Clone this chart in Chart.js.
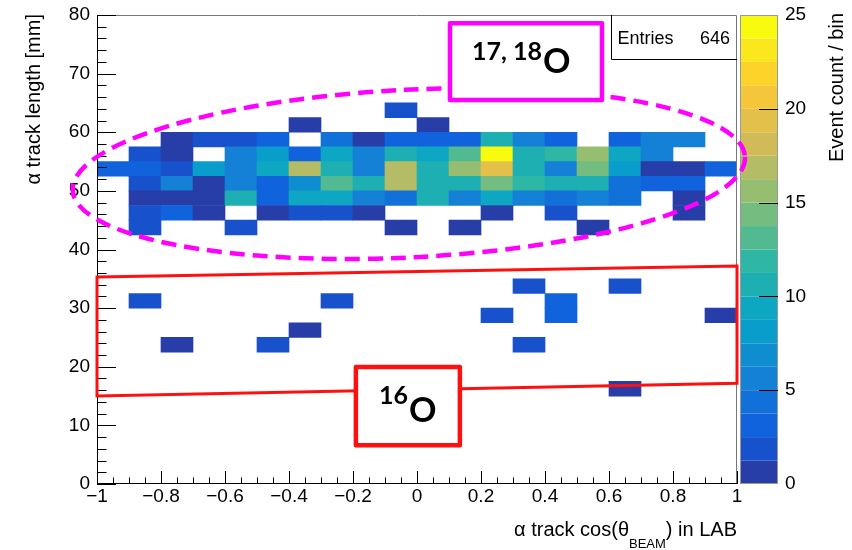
<!DOCTYPE html>
<html>
<head>
<meta charset="utf-8">
<script src="https://cdn.jsdelivr.net/npm/chart.js@4.4.1/dist/chart.umd.min.js"></script>
<style>
html,body{margin:0;padding:0;background:#fff;}
canvas{display:block;}
</style>
</head>
<body>
<canvas id="c" width="852" height="550"></canvas>
<script>
// ---------------- data ----------------
// x bin centres: alpha track cos(theta_BEAM), 20 bins of width 0.1
const xBinCenters = [-0.95,-0.85,-0.75,-0.65,-0.55,-0.45,-0.35,-0.25,-0.15,-0.05,
                      0.05, 0.15, 0.25, 0.35, 0.45, 0.55, 0.65, 0.75, 0.85, 0.95];
// event counts per x bin, one array per track-length row [lo, hi) mm
const counts_62_5 = [0,0,0,0,0,0,0,0,0,2,0,0,0,0,0,0,0,0,0,0];
const counts_60_0 = [0,0,0,0,0,0,1,0,0,0,1,0,0,0,0,0,0,0,0,0];
const counts_57_5 = [0,0,1,2,2,3,0,4,1,3,3,3,10,5,3,0,3,5,5,0];
const counts_55_0 = [0,2,1,0,5,8,3,9,5,10,9,13,25,11,12,16,9,5,0,0];
const counts_52_5 = [3,3,2,8,5,9,17,10,5,17,11,16,19,11,6,14,8,1,1,3];
const counts_50_0 = [0,2,6,1,5,3,7,13,11,17,11,11,14,12,11,11,4,3,3,0];
const counts_47_5 = [0,1,1,1,10,3,9,9,5,4,10,5,9,5,4,6,4,0,1,0];
const counts_45_0 = [0,2,3,1,0,1,2,2,1,0,0,0,1,0,2,0,0,0,1,0];
const counts_42_5 = [0,2,0,0,2,0,0,0,0,1,0,1,0,0,0,1,0,0,0,0];
const counts_32_5 = [0,0,0,0,0,0,0,0,0,0,0,0,0,2,0,0,2,0,0,0];
const counts_30_0 = [0,2,0,0,0,0,0,2,0,0,0,0,0,0,3,0,0,0,0,0];
const counts_27_5 = [0,0,0,0,0,0,0,0,0,0,0,0,2,0,3,0,0,0,0,1];
const counts_25_0 = [0,0,0,0,0,0,1,0,0,0,0,0,0,0,0,0,0,0,0,0];
const counts_22_5 = [0,0,1,0,0,2,0,0,0,0,0,0,0,2,0,0,0,0,0,0];
const counts_15_0 = [0,0,0,0,0,0,0,0,0,0,0,0,0,0,0,0,1,0,0,0];
const rows = [
  {lo:62.5, hi:65.0, counts:counts_62_5},
  {lo:60.0, hi:62.5, counts:counts_60_0},
  {lo:57.5, hi:60.0, counts:counts_57_5},
  {lo:55.0, hi:57.5, counts:counts_55_0},
  {lo:52.5, hi:55.0, counts:counts_52_5},
  {lo:50.0, hi:52.5, counts:counts_50_0},
  {lo:47.5, hi:50.0, counts:counts_47_5},
  {lo:45.0, hi:47.5, counts:counts_45_0},
  {lo:42.5, hi:45.0, counts:counts_42_5},
  {lo:32.5, hi:35.0, counts:counts_32_5},
  {lo:30.0, hi:32.5, counts:counts_30_0},
  {lo:27.5, hi:30.0, counts:counts_27_5},
  {lo:25.0, hi:27.5, counts:counts_25_0},
  {lo:22.5, hi:25.0, counts:counts_22_5},
  {lo:15.0, hi:17.5, counts:counts_15_0}
];
const entries = 646;
// ticks
const xMajorTicks = [-1,-0.8,-0.6,-0.4,-0.2,0,0.2,0.4,0.6,0.8,1];
const yMajorTicks = [0,10,20,30,40,50,60,70,80];
const zTicks = [0,5,10,15,20,25];
const zMax = 25, nContours = 20;

// annotation geometry (data units)
const ellipseEnds = [[-1.076, 50.1], [1.025, 55.8]];
const ellipseHalfMinor = 14.3;
const redQuad = [[-1, 35.3], [1, 37.2], [1, 17.2], [-1, 15.0]];
const box1718 = {x0:0.103, x1:0.578, y0:78.6, y1:65.5};
const box16 = {x0:-0.191, x1:0.134, y0:19.95, y1:6.6};
const statsBox = {x0:0.606, x1:1, y0:80, y1:72.45};

// ---------------- palette (ROOT kBird) ----------------
const birdStops = [0,0.125,0.25,0.375,0.5,0.625,0.75,0.875,1];
const birdR = [0.2082,0.0592,0.0780,0.0232,0.1802,0.5301,0.8186,0.9956,0.9764];
const birdG = [0.1664,0.3599,0.5041,0.6419,0.7178,0.7492,0.7328,0.7862,0.9832];
const birdB = [0.5293,0.8684,0.8385,0.7914,0.6425,0.4662,0.3499,0.1968,0.0539];
function bird(t){
  let k = 0;
  while (k < birdStops.length-2 && t > birdStops[k+1]) k++;
  const f = (t - birdStops[k])/(birdStops[k+1]-birdStops[k]);
  const c = arr => Math.round(255*(arr[k] + f*(arr[k+1]-arr[k])));
  return `rgb(${c(birdR)},${c(birdG)},${c(birdB)})`;
}
function bandColor(i){
  const idx = Math.floor((i+0.99)*255/nContours);
  return bird(idx/254);
}
function valueColor(v){
  const i = Math.min(nContours-1, Math.floor(v/(zMax/nContours)));
  return bandColor(i);
}

// ---------------- build cells ----------------
const cells = [], cellColors = [];
rows.forEach(r => {
  r.counts.forEach((n, i) => {
    if (n > 0) {
      cells.push({x: xBinCenters[i], y: [r.lo, r.hi], v: n});
      cellColors.push(valueColor(n));
    }
  });
});

const plotFont = "'Liberation Sans', Arial, Helvetica, sans-serif";
const noteFont = "Lato, 'Open Sans', sans-serif";

function withMinor(majors, sub){
  const out = [];
  for (let i = 0; i < majors.length; i++){
    out.push({v: majors[i], major: true});
    if (i < majors.length-1){
      const step = (majors[i+1]-majors[i])/sub;
      for (let j = 1; j < sub; j++) out.push({v: majors[i]+j*step, major: false});
    }
  }
  return out;
}

const overlay = {
  id: 'overlay',
  afterDatasetsDraw(chart){
    const ctx = chart.ctx;
    const {left, right, top, bottom} = chart.chartArea;
    const xs = chart.scales.x, ys = chart.scales.y, cs = chart.scales.cb;
    const X = v => xs.getPixelForValue(v), Y = v => ys.getPixelForValue(v);
    ctx.save();
    // frame
    ctx.lineWidth = 1;
    ctx.strokeStyle = '#777';
    ctx.beginPath();
    ctx.moveTo(left, top+0.5); ctx.lineTo(right-0.5, top+0.5); ctx.lineTo(right-0.5, bottom);
    ctx.stroke();
    ctx.strokeStyle = '#000';
    ctx.beginPath();
    ctx.moveTo(left+0.5, top); ctx.lineTo(left+0.5, bottom-0.5); ctx.lineTo(right, bottom-0.5);
    ctx.stroke();
    // y ticks
    withMinor(yMajorTicks, 5).forEach(t => {
      const y = Math.round(Y(t.v)) + 0.5;
      const len = t.major ? 19 : 9.5;
      ctx.beginPath(); ctx.moveTo(left, y); ctx.lineTo(left+len, y); ctx.stroke();
    });
    // x ticks
    withMinor(xMajorTicks, 4).forEach(t => {
      const x = Math.round(X(t.v)) + 0.5;
      const len = t.major ? 13 : 6.5;
      ctx.beginPath(); ctx.moveTo(x, bottom); ctx.lineTo(x, bottom-len); ctx.stroke();
    });
    // colour bar
    const cbL = right + 3, cbR = right + 41;
    for (let i = 0; i < nContours; i++){
      const y0 = cs.getPixelForValue(i*zMax/nContours), y1 = cs.getPixelForValue((i+1)*zMax/nContours);
      ctx.fillStyle = bandColor(i);
      ctx.fillRect(cbL, y1, cbR-cbL, y0-y1);
    }
    ctx.strokeStyle = '#999';
    ctx.strokeRect(cbL+0.5, cs.getPixelForValue(zMax)+0.5, cbR-cbL-1, cs.getPixelForValue(0)-cs.getPixelForValue(zMax)-1);
    ctx.strokeStyle = '#000';
    zTicks.forEach(v => {
      if (v === 0 || v === zMax) return;
      const y = Math.round(cs.getPixelForValue(v)) + 0.5;
      ctx.beginPath(); ctx.moveTo(cbR-19, y); ctx.lineTo(cbR, y); ctx.stroke();
    });
    // stats box
    {
      const x0 = Math.round(X(statsBox.x0))+0.5, x1 = X(statsBox.x1), y0 = Y(statsBox.y0), y1 = Math.round(Y(statsBox.y1))+0.5;
      ctx.fillStyle = '#fff';
      ctx.fillRect(x0, y0+1, x1-x0-1, y1-y0-1);
      ctx.strokeStyle = '#000'; ctx.lineWidth = 1;
      ctx.beginPath(); ctx.moveTo(x0, y0); ctx.lineTo(x0, y1); ctx.lineTo(x1, y1); ctx.stroke();
      ctx.fillStyle = '#000';
      ctx.font = `18px ${plotFont}`;
      ctx.textBaseline = 'alphabetic';
      ctx.textAlign = 'left';
      ctx.fillText('Entries', x0+6, y0+29);
      ctx.textAlign = 'right';
      ctx.fillText(String(entries), x1-7, y0+29);
    }
    // red quadrilateral
    ctx.strokeStyle = '#ff1010'; ctx.lineWidth = 3; ctx.lineJoin = 'miter';
    ctx.beginPath();
    redQuad.forEach((p, i) => { const px = X(p[0]), py = Y(p[1]); if (i===0) ctx.moveTo(px, py); else ctx.lineTo(px, py); });
    ctx.closePath(); ctx.stroke();
    // dashed ellipse
    {
      const p1 = [X(ellipseEnds[0][0]), Y(ellipseEnds[0][1])];
      const p2 = [X(ellipseEnds[1][0]), Y(ellipseEnds[1][1])];
      const cx = (p1[0]+p2[0])/2, cy = (p1[1]+p2[1])/2;
      const a = Math.hypot(p2[0]-p1[0], p2[1]-p1[1])/2;
      const ang = Math.atan2(p2[1]-p1[1], p2[0]-p1[0]);
      const b = Y(0) - Y(ellipseHalfMinor);
      ctx.strokeStyle = '#ff00ff'; ctx.lineWidth = 4.5;
      ctx.setLineDash([15, 8]);
      ctx.beginPath(); ctx.ellipse(cx, cy, a, b, ang, 0, 2*Math.PI); ctx.stroke();
      ctx.setLineDash([]);
    }
    // label boxes
    function labelBox(bx, color, sup, supX, supY, oY){
      const x0 = X(bx.x0), x1 = X(bx.x1), y0 = Y(bx.y0), y1 = Y(bx.y1);
      ctx.fillStyle = '#fff';
      ctx.fillRect(x0, y0, x1-x0, y1-y0);
      ctx.strokeStyle = color; ctx.lineWidth = 4.5; ctx.lineJoin = 'round';
      ctx.strokeRect(x0, y0, x1-x0, y1-y0);
      ctx.fillStyle = '#000';
      ctx.textAlign = 'left'; ctx.textBaseline = 'alphabetic';
      ctx.font = `bold 25px ${noteFont}`;
      ctx.fillText(sup, x0+supX, y0+supY);
      const w = ctx.measureText(sup).width;
      ctx.font = `bold 34px ${noteFont}`;
      ctx.fillText('O', x0+supX+w+1, y0+oY);
    }
    labelBox(box1718, '#ff00ff', '17, 18', 22, 37, 50);
    labelBox(box16, '#ff1010', '16', 23, 37, 55);
    // axis titles
    ctx.fillStyle = '#000';
    ctx.font = `20px ${plotFont}`;
    // y title
    ctx.save();
    ctx.translate(40, top-1); ctx.rotate(-Math.PI/2);
    ctx.textAlign = 'right'; ctx.textBaseline = 'alphabetic';
    ctx.fillText('\u03b1 track length [mm]', 0, 0);
    ctx.restore();
    // colour-bar title
    ctx.save();
    ctx.translate(843, top-2); ctx.rotate(-Math.PI/2);
    ctx.textAlign = 'right'; ctx.textBaseline = 'alphabetic';
    ctx.fillText('Event count / bin', 0, 0);
    ctx.restore();
    // x title with subscript
    {
      const t1 = '\u03b1 track cos(\u03b8', sub = 'BEAM', t2 = ') in LAB';
      ctx.font = `20px ${plotFont}`;
      const w1 = ctx.measureText(t1).width, w3 = ctx.measureText(t2).width;
      ctx.font = `13px ${plotFont}`;
      const w2 = ctx.measureText(sub).width;
      const xEnd = right, base = 536;
      let x = xEnd - w3 - w2 - w1;
      ctx.textAlign = 'left'; ctx.textBaseline = 'alphabetic';
      ctx.font = `20px ${plotFont}`; ctx.fillText(t1, x, base); x += w1;
      ctx.font = `13px ${plotFont}`; ctx.fillText(sub, x, base+12); x += w2;
      ctx.font = `20px ${plotFont}`; ctx.fillText(t2, x, base);
    }
    ctx.restore();
  }
};

function fmtX(v){
  const s = Number(v.toFixed(1)).toString();
  return s.replace('-', '\u2212');
}
function noPad(s){ s.paddingTop = 0; s.paddingBottom = 0; s.paddingLeft = 0; s.paddingRight = 0; }

new Chart(document.getElementById('c'), {
  type: 'bar',
  data: {
    datasets: [{
      data: cells,
      backgroundColor: cellColors,
      borderWidth: 0,
      barPercentage: 1,
      categoryPercentage: 1,
      grouped: false
    }]
  },
  options: {
    responsive: false,
    animation: false,
    devicePixelRatio: 1,
    events: [],
    layout: {padding: {top: 15, left: 0, right: 0, bottom: 0}},
    plugins: {legend: {display: false}, tooltip: {enabled: false}},
    scales: {
      x: {
        type: 'linear', min: -1, max: 1, offset: false,
        grid: {display: false, drawTicks: false, offset: false},
        border: {display: false},
        afterBuildTicks: s => { s.ticks = xMajorTicks.map(v => ({value: v})); },
        afterFit: s => { s.height = 66; noPad(s); },
        ticks: {
          autoSkip: false, maxRotation: 0, minRotation: 0, padding: 1,
          color: '#000', font: {family: plotFont, size: 19},
          callback: v => fmtX(v)
        }
      },
      y: {
        type: 'linear', min: 0, max: 80,
        grid: {display: false, drawTicks: false},
        border: {display: false},
        afterBuildTicks: s => { s.ticks = yMajorTicks.map(v => ({value: v})); },
        afterFit: s => { s.width = 97; noPad(s); },
        ticks: {padding: 7, color: '#000', font: {family: plotFont, size: 19}}
      },
      cb: {
        type: 'linear', position: 'right', min: 0, max: zMax,
        grid: {display: false, drawTicks: false},
        border: {display: false},
        afterBuildTicks: s => { s.ticks = zTicks.map(v => ({value: v})); },
        afterFit: s => { s.width = 115; noPad(s); },
        ticks: {padding: 48, color: '#000', font: {family: plotFont, size: 19}}
      }
    }
  },
  plugins: [overlay]
});
</script>
</body>
</html>
